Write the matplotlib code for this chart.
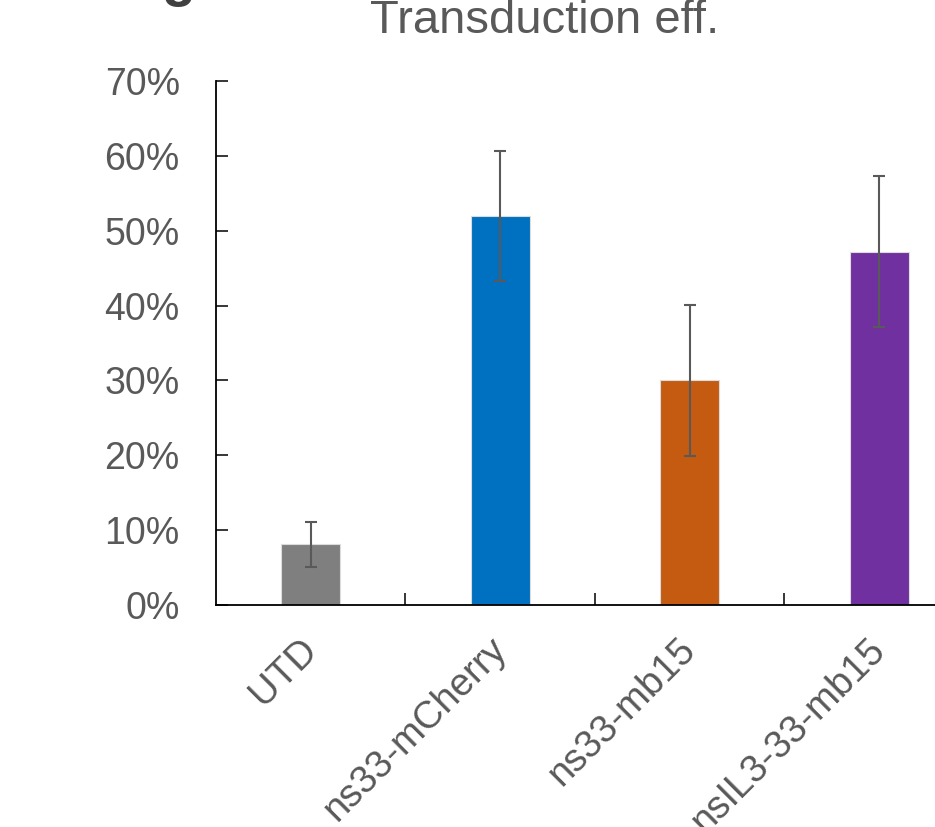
import matplotlib.pyplot as plt
from matplotlib.ticker import FixedLocator, PercentFormatter
from matplotlib.transforms import ScaledTranslation

plt.rcParams['font.family'] = ['Liberation Sans', 'DejaVu Sans']

# transduction efficiency (%) per construct, mean and error
groups = ["UTD", "ns33-mCherry", "ns33-mb15", "nsIL3-33-mb15"]
means = [8.1, 52.0, 30.0, 47.2]
errors = [3.0, 8.7, 10.1, 10.1]
colors = ["#7f7f7f", "#0070c0", "#c55a11", "#7030a0"]

text_grey = "#595959"

fig = plt.figure(figsize=(9.35, 8.27), dpi=100)
# axes run past the right edge of the figure
ax = fig.add_axes([0.231, 0.2684, 0.8107, 0.6337])

x = list(range(len(groups)))
ax.bar(x, means, width=0.31, color=colors, edgecolor="#dcdcdc", linewidth=0.8, zorder=2)
ax.errorbar(x, means, yerr=errors, fmt="none", ecolor=text_grey,
            elinewidth=1.5, capsize=4.3, capthick=1.5, zorder=3)

ax.set_xlim(-0.5, 3.5)
ax.set_ylim(0, 70)
ax.yaxis.set_major_locator(FixedLocator(range(0, 71, 10)))
ax.yaxis.set_major_formatter(PercentFormatter(decimals=0))
ax.tick_params(axis="y", direction="in", length=8.6, width=1.1, pad=26,
               labelsize=27, labelcolor=text_grey)

# boundary ticks between groups, labels at group centres
ax.xaxis.set_major_locator(FixedLocator([0.5, 1.5, 2.5]))
ax.xaxis.set_major_formatter(plt.NullFormatter())
ax.xaxis.set_minor_locator(FixedLocator(x))
labels = ax.set_xticklabels(groups, minor=True, rotation=45, ha="right",
                            rotation_mode="anchor", fontsize=27.5, color=text_grey)
ax.tick_params(axis="x", which="major", direction="in", length=8.6, width=1.1)
ax.tick_params(axis="x", which="minor", length=0, pad=19)
shift = ScaledTranslation(-12 / 100, 0, fig.dpi_scale_trans)
for lab in labels:
    lab.set_transform(lab.get_transform() + shift)

for side in ["top", "right"]:
    ax.spines[side].set_visible(False)
for side in ["left", "bottom"]:
    ax.spines[side].set_linewidth(1.3)
    ax.spines[side].set_color("black")

fig.text(0.583, 1 - 33 / 827, "Transduction eff.", ha="center", va="baseline",
         fontsize=34, color=text_grey)
fig.text(0.191, 1 + 5 / 827, "g", ha="center", va="baseline",
         fontsize=40, fontweight="bold", color="#404040")

fig.savefig("out.png", dpi=100)
